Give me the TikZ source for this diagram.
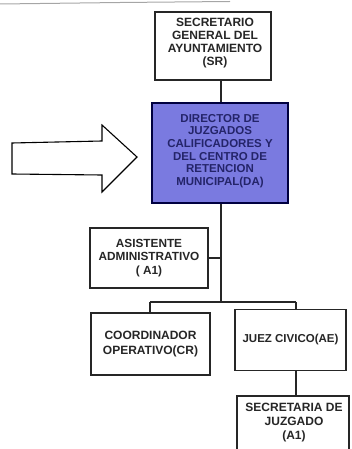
\documentclass[tikz,border=0pt]{standalone}
\usepackage{fontspec}
\setmainfont{Liberation Sans}
\begin{document}
\begin{tikzpicture}[x=1pt,y=-1pt,
  orgbox/.style={draw=black!85,line width=1.6pt,fill=white,inner sep=0pt,
    align=center,font=\fontsize{11.5}{13}\selectfont\bfseries,text=black!85},
  headbox/.style={orgbox,draw=blue!25!black,fill={rgb,255:red,122;green,122;blue,224},
    text={rgb,255:red,36;green,36;blue,105}},
  link/.style={draw=black!85,line width=1.3pt}]
\useasboundingbox (0,0) rectangle (351,449);
% faint page edge along the top
\draw[black!35,line width=1pt] (0,4) -- (120,2.5) -- (230,1.5);
% boxes (corner coordinates in pixel units, y downwards)
\node[orgbox,minimum width=116,minimum height=68] (sr) at (213,46) {};
\node[align=center,font=\fontsize{12}{12.8}\selectfont\bfseries,text=black!85] (srt) at (215,43)
  {SECRETARIO\\GENERAL DEL\\AYUNTAMIENTO\\(SR)};
\node[headbox,minimum width=136,minimum height=100] (dir) at (220,153) {};
\node[align=center,font=\fontsize{11.5}{12.7}\selectfont\bfseries,
  text={rgb,255:red,36;green,36;blue,105}] (dirt) at (220,151)
  {DIRECTOR DE\\JUZGADOS\\CALIFICADORES Y\\DEL CENTRO DE\\RETENCION\\MUNICIPAL(DA)};
\node[orgbox,minimum width=118,minimum height=60,
  font=\fontsize{11.8}{13.5}\selectfont\bfseries] (asi) at (149,258)
  {ASISTENTE\\ADMINISTRATIVO\\( A1)};
\node[orgbox,minimum width=119,minimum height=62,
  font=\fontsize{12}{14.5}\selectfont\bfseries] (coo) at (150.5,344)
  {COORDINADOR\\OPERATIVO(CR)};
\node[orgbox,minimum width=111,minimum height=61] (jue) at (290.5,340)
  {JUEZ CIVICO(AE)};
\begin{scope}
\clip (0,0) rectangle (351,449);
\node[orgbox,minimum width=112,minimum height=70,anchor=north west] (sec) at (236,395) {};
\end{scope}
\node[align=center,font=\fontsize{12}{13.5}\selectfont\bfseries,text=black!85,anchor=north] (sect) at (294,400)
  {SECRETARIA DE\\JUZGADO\\[1pt](A1)};
% big outline arrow pointing at the director
\draw[line width=1.1pt,fill=white,line join=miter] (12,143) -- (102,141) -- (102,125) -- (137,157)
  -- (102,192) -- (102,175) -- (12,174) -- cycle;
% connectors
\coordinate (jn) at (221,302);
\coordinate (ja) at (221,258);
\coordinate (jl) at (150,302);
\coordinate (jr) at (296,302);
\draw[link] (sr.south -| dir.north) ++(1,0) coordinate (st) -- (st |- dir.north);
\draw[link] (dir.south) ++(1,0) -- (jn);
\draw[link] (asi.east) -- (ja);
\draw[link] (jl) -- (jr);
\draw[link] (jl) -- (jl |- coo.north);
\draw[link] (jr) -- (jr |- jue.north);
\draw[link] (jue.south -| sect.north) ++(2,0) coordinate (jb) -- (jb |- sec.north);
\end{tikzpicture}
\end{document}
